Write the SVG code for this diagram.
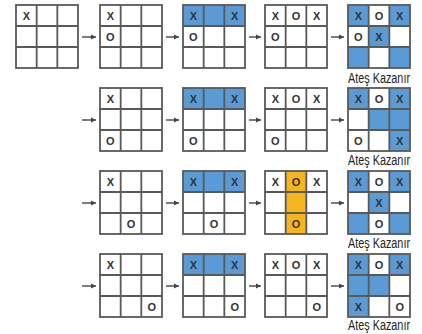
<svg xmlns="http://www.w3.org/2000/svg" xmlns:xlink="http://www.w3.org/1999/xlink" width="422" height="334" viewBox="0 0 422 334">
<style>
.bg{fill:#fff}
.b{fill:#5b9bd5}
.o{fill:#f5b51f}
.ln{fill:none;stroke:#595959;stroke-width:1.8}
.m{font-family:"Liberation Sans",Arial,sans-serif;font-weight:bold;font-size:11px;fill:#333;text-anchor:middle}
.lbl{font-family:"Liberation Sans",Arial,sans-serif;font-size:14px;fill:#222;text-anchor:middle}
.ar{stroke:#444;stroke-width:1.4;fill:none;marker-end:url(#ah)}
</style>
<defs>
<marker id="ah" markerUnits="userSpaceOnUse" markerWidth="6" markerHeight="6" refX="5" refY="3" orient="auto">
<path d="M0,0.5 L5,3 L0,5.5 Z" fill="#444"/>
</marker>
<g id="lines">
<rect class="ln" x="0" y="0" width="62" height="63"/>
<path class="ln" d="M20.67,0V63M41.33,0V63M0,21H62M0,42H62"/>
</g>
<rect id="c" width="20.67" height="21"/>
</defs>
<rect width="422" height="334" fill="#fff"/>

<!-- Row 1 -->
<g id="r1b1" transform="translate(16,5)">
<rect class="bg" width="62" height="63"/>
<use xlink:href="#lines"/>
<text class="m" x="10.33" y="14.5">X</text>
</g>
<g id="r1b2" transform="translate(100,5)">
<rect class="bg" width="62" height="63"/>
<use xlink:href="#lines"/>
<text class="m" x="10.33" y="14.5">X</text>
<text class="m" x="10.33" y="35.5">O</text>
</g>
<g id="r1b3" transform="translate(183,5)">
<rect class="bg" width="62" height="63"/>
<rect class="b" width="62" height="21"/>
<use xlink:href="#lines"/>
<text class="m" x="10.33" y="14.5">X</text>
<text class="m" x="51.67" y="14.5">X</text>
<text class="m" x="10.33" y="35.5">O</text>
</g>
<g id="r1b4" transform="translate(265,5)">
<rect class="bg" width="62" height="63"/>
<use xlink:href="#lines"/>
<text class="m" x="10.33" y="14.5">X</text>
<text class="m" x="31" y="14.5">O</text>
<text class="m" x="51.67" y="14.5">X</text>
<text class="m" x="10.33" y="35.5">O</text>
</g>
<g id="r1b5" transform="translate(348,5)">
<rect class="bg" width="62" height="63"/>
<use xlink:href="#c" class="b" x="0" y="0"/>
<use xlink:href="#c" class="b" x="41.33" y="0"/>
<use xlink:href="#c" class="b" x="20.67" y="21"/>
<use xlink:href="#c" class="b" x="0" y="42"/>
<use xlink:href="#c" class="b" x="41.33" y="42"/>
<use xlink:href="#lines"/>
<text class="m" x="10.33" y="14.5">X</text>
<text class="m" x="31" y="14.5">O</text>
<text class="m" x="51.67" y="14.5">X</text>
<text class="m" x="10.33" y="35.5">O</text>
<text class="m" x="31" y="35.5">X</text>
<text class="lbl" x="31" y="78" textLength="62" lengthAdjust="spacingAndGlyphs">Ateş Kazanır</text>
</g>

<!-- Row 2 -->
<g id="r2b2" transform="translate(100,88)">
<rect class="bg" width="62" height="63"/>
<use xlink:href="#lines"/>
<text class="m" x="10.33" y="14.5">X</text>
<text class="m" x="10.33" y="56.5">O</text>
</g>
<g id="r2b3" transform="translate(183,88)">
<rect class="bg" width="62" height="63"/>
<rect class="b" width="62" height="21"/>
<use xlink:href="#lines"/>
<text class="m" x="10.33" y="14.5">X</text>
<text class="m" x="51.67" y="14.5">X</text>
<text class="m" x="10.33" y="56.5">O</text>
</g>
<g id="r2b4" transform="translate(265,88)">
<rect class="bg" width="62" height="63"/>
<use xlink:href="#lines"/>
<text class="m" x="10.33" y="14.5">X</text>
<text class="m" x="31" y="14.5">O</text>
<text class="m" x="51.67" y="14.5">X</text>
<text class="m" x="10.33" y="56.5">O</text>
</g>
<g id="r2b5" transform="translate(348,88)">
<rect class="bg" width="62" height="63"/>
<use xlink:href="#c" class="b" x="0" y="0"/>
<use xlink:href="#c" class="b" x="41.33" y="0"/>
<use xlink:href="#c" class="b" x="20.67" y="21"/>
<use xlink:href="#c" class="b" x="41.33" y="21"/>
<use xlink:href="#c" class="b" x="41.33" y="42"/>
<use xlink:href="#lines"/>
<text class="m" x="10.33" y="14.5">X</text>
<text class="m" x="31" y="14.5">O</text>
<text class="m" x="51.67" y="14.5">X</text>
<text class="m" x="10.33" y="56.5">O</text>
<text class="m" x="51.67" y="56.5">X</text>
<text class="lbl" x="31" y="77" textLength="62" lengthAdjust="spacingAndGlyphs">Ateş Kazanır</text>
</g>

<!-- Row 3 -->
<g id="r3b2" transform="translate(100,171)">
<rect class="bg" width="62" height="63"/>
<use xlink:href="#lines"/>
<text class="m" x="10.33" y="14.5">X</text>
<text class="m" x="31" y="56.5">O</text>
</g>
<g id="r3b3" transform="translate(183,171)">
<rect class="bg" width="62" height="63"/>
<rect class="b" width="62" height="21"/>
<use xlink:href="#lines"/>
<text class="m" x="10.33" y="14.5">X</text>
<text class="m" x="51.67" y="14.5">X</text>
<text class="m" x="31" y="56.5">O</text>
</g>
<g id="r3b4" transform="translate(265,171)">
<rect class="bg" width="62" height="63"/>
<rect class="o" x="20.67" y="0" width="20.67" height="63"/>
<use xlink:href="#lines"/>
<text class="m" x="10.33" y="14.5">X</text>
<text class="m" x="31" y="14.5">O</text>
<text class="m" x="51.67" y="14.5">X</text>
<text class="m" x="31" y="56.5">O</text>
</g>
<g id="r3b5" transform="translate(348,171)">
<rect class="bg" width="62" height="63"/>
<use xlink:href="#c" class="b" x="0" y="0"/>
<use xlink:href="#c" class="b" x="41.33" y="0"/>
<use xlink:href="#c" class="b" x="20.67" y="21"/>
<use xlink:href="#c" class="b" x="0" y="42"/>
<use xlink:href="#c" class="b" x="41.33" y="42"/>
<use xlink:href="#lines"/>
<text class="m" x="10.33" y="14.5">X</text>
<text class="m" x="31" y="14.5">O</text>
<text class="m" x="51.67" y="14.5">X</text>
<text class="m" x="31" y="35.5">X</text>
<text class="m" x="31" y="56.5">O</text>
<text class="lbl" x="31" y="77" textLength="62" lengthAdjust="spacingAndGlyphs">Ateş Kazanır</text>
</g>

<!-- Row 4 -->
<g id="r4b2" transform="translate(100,254)">
<rect class="bg" width="62" height="63"/>
<use xlink:href="#lines"/>
<text class="m" x="10.33" y="14.5">X</text>
<text class="m" x="51.67" y="56.5">O</text>
</g>
<g id="r4b3" transform="translate(183,254)">
<rect class="bg" width="62" height="63"/>
<rect class="b" width="62" height="21"/>
<use xlink:href="#lines"/>
<text class="m" x="10.33" y="14.5">X</text>
<text class="m" x="51.67" y="14.5">X</text>
<text class="m" x="51.67" y="56.5">O</text>
</g>
<g id="r4b4" transform="translate(265,254)">
<rect class="bg" width="62" height="63"/>
<use xlink:href="#lines"/>
<text class="m" x="10.33" y="14.5">X</text>
<text class="m" x="31" y="14.5">O</text>
<text class="m" x="51.67" y="14.5">X</text>
<text class="m" x="51.67" y="56.5">O</text>
</g>
<g id="r4b5" transform="translate(348,254)">
<rect class="bg" width="62" height="63"/>
<use xlink:href="#c" class="b" x="0" y="0"/>
<use xlink:href="#c" class="b" x="41.33" y="0"/>
<use xlink:href="#c" class="b" x="0" y="21"/>
<use xlink:href="#c" class="b" x="20.67" y="21"/>
<use xlink:href="#c" class="b" x="0" y="42"/>
<use xlink:href="#lines"/>
<text class="m" x="10.33" y="14.5">X</text>
<text class="m" x="31" y="14.5">O</text>
<text class="m" x="51.67" y="14.5">X</text>
<text class="m" x="10.33" y="56.5">X</text>
<text class="m" x="51.67" y="56.5">O</text>
<text class="lbl" x="31" y="76" textLength="62" lengthAdjust="spacingAndGlyphs">Ateş Kazanır</text>
</g>

<g id="connectors">
<path class="ar" d="M82,37H96"/>
<path class="ar" d="M166,37H179"/>
<path class="ar" d="M249,37H261"/>
<path class="ar" d="M331,37H344"/>
<path class="ar" d="M82,120H96"/>
<path class="ar" d="M166,120H179"/>
<path class="ar" d="M249,120H261"/>
<path class="ar" d="M331,120H344"/>
<path class="ar" d="M82,203H96"/>
<path class="ar" d="M166,203H179"/>
<path class="ar" d="M249,203H261"/>
<path class="ar" d="M331,203H344"/>
<path class="ar" d="M82,286H96"/>
<path class="ar" d="M166,286H179"/>
<path class="ar" d="M249,286H261"/>
<path class="ar" d="M331,286H344"/>
</g>
</svg>
